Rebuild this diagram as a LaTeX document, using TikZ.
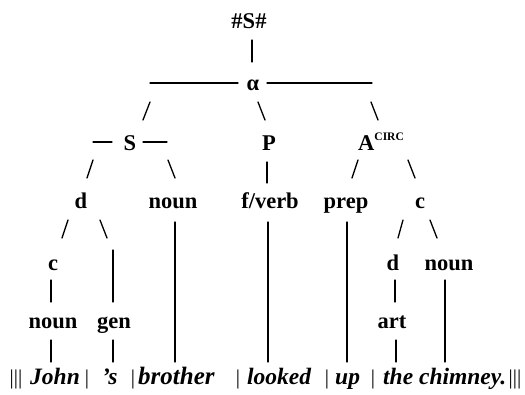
\documentclass[tikz,border=0pt]{standalone}
\usepackage{fontspec}
\setmainfont{Liberation Serif}
\begin{document}
\begin{tikzpicture}[x=1pt,y=-1pt,
  lbl/.style={inner sep=0pt,anchor=base,font=\fontsize{22.5}{22.5}\selectfont\bfseries},
  wrd/.style={inner sep=0pt,anchor=base west,font=\fontsize{23.5}{23.5}\selectfont\bfseries\itshape},
  bar/.style={inner sep=0pt,anchor=base,font=\fontsize{21}{21}\selectfont},
  ln/.style={line width=1.3pt,line cap=round}]
\useasboundingbox (0,0) rectangle (525,394);
% labels
\node[lbl] (top) at (249,28) {\#S\#};
\node[lbl] (alpha) at (253,90) {α};
\node[lbl] (S) at (130,150) {S};
\node[lbl] (P) at (269,150) {P};
\node[lbl,anchor=base west] (A) at (358,150) {A\raisebox{9.5pt}{\fontsize{11.5}{11.5}\selectfont\bfseries CIRC}};
\node[lbl] (d1) at (81,208) {d};
\node[lbl] (noun1) at (173,208) {noun};
\node[lbl] (fverb) at (270,208) {f/verb};
\node[lbl] (prep) at (346,208) {prep};
\node[lbl] (c1) at (420,208) {c};
\node[lbl] (c2) at (53,270) {c};
\node[lbl] (d2) at (393,270) {d};
\node[lbl] (noun3) at (449,270) {noun};
\node[lbl] (noun4) at (53,328) {noun};
\node[lbl] (gen) at (114,328) {gen};
\node[lbl] (art) at (392,328) {art};
% bottom row
\node[bar] (b0) at (16,384) {|||};
\node[wrd] (john) at (30,384) {John};
\node[bar] (b1) at (87,384) {|};
\node[wrd] (s) at (102,384) {'s};
\node[bar] (b2) at (133,384) {|};
\node[wrd,font=\fontsize{25}{25}\selectfont\bfseries\itshape] (brother) at (138,384) {brother};
\node[bar] (b3) at (238,384) {|};
\node[wrd] (looked) at (247,384) {looked};
\node[bar] (b4) at (327,384) {|};
\node[wrd] (up) at (335,384) {up};
\node[bar] (b5) at (373,384) {|};
\node[wrd] (chim) at (383,384) {the chimney.};
\node[bar] (b6) at (515,384) {|||};
% connector end points
\coordinate (t1) at (252,40); \coordinate (t2) at (252,62);
\coordinate (al1) at (150,83); \coordinate (al2) at (238,83);
\coordinate (ar1) at (267,83); \coordinate (ar2) at (372,83);
\coordinate (as1) at (150,102); \coordinate (as2) at (143,120);
\coordinate (ap1) at (258,102); \coordinate (ap2) at (265,120);
\coordinate (aa1) at (371,102); \coordinate (aa2) at (378,120);
\coordinate (sl1) at (93,142); \coordinate (sl2) at (112,142);
\coordinate (sr1) at (143,142); \coordinate (sr2) at (167,142);
\coordinate (sd1) at (93,160); \coordinate (sd2) at (87,178);
\coordinate (sn1) at (168,160); \coordinate (sn2) at (175,178);
\coordinate (pv1) at (267,162); \coordinate (pv2) at (267,183);
\coordinate (ap3) at (358,160); \coordinate (ap4) at (352,178);
\coordinate (ac1) at (408,160); \coordinate (ac2) at (415,178);
\coordinate (dc1) at (68,220); \coordinate (dc2) at (62,238);
\coordinate (dg1) at (100,220); \coordinate (dg2) at (107,238);
\coordinate (g1) at (113,250); \coordinate (g2) at (113,302);
\coordinate (nb1) at (175,222); \coordinate (nb2) at (175,362);
\coordinate (fl1) at (268,222); \coordinate (fl2) at (268,362);
\coordinate (pu1) at (347,222); \coordinate (pu2) at (347,362);
\coordinate (cd1) at (403,220); \coordinate (cd2) at (398,238);
\coordinate (cn1) at (430,220); \coordinate (cn2) at (437,238);
\coordinate (cv1) at (51,280); \coordinate (cv2) at (51,302);
\coordinate (dv1) at (395,280); \coordinate (dv2) at (395,302);
\coordinate (nc1) at (445,280); \coordinate (nc2) at (445,362);
\coordinate (nj1) at (51,340); \coordinate (nj2) at (51,362);
\coordinate (gs1) at (113,340); \coordinate (gs2) at (113,362);
\coordinate (at1) at (396,340); \coordinate (at2) at (396,362);
\foreach \a/\b in {t1/t2,al1/al2,ar1/ar2,as1/as2,ap1/ap2,aa1/aa2,sl1/sl2,sr1/sr2,
  sd1/sd2,sn1/sn2,pv1/pv2,ap3/ap4,ac1/ac2,dc1/dc2,dg1/dg2,g1/g2,nb1/nb2,fl1/fl2,
  pu1/pu2,cd1/cd2,cn1/cn2,cv1/cv2,dv1/dv2,nc1/nc2,nj1/nj2,gs1/gs2,at1/at2}
  \draw[ln] (\a) -- (\b);
\end{tikzpicture}
\end{document}
